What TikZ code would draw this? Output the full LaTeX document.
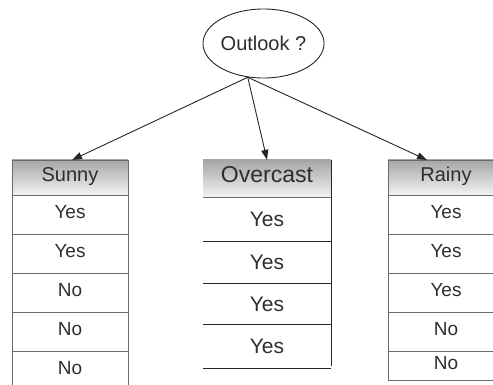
\documentclass[tikz,border=0pt]{standalone}
\usepackage{fontspec}
\setmainfont{Liberation Sans}
\usetikzlibrary{arrows.meta,shapes.geometric}

\definecolor{ink}{HTML}{2E2E2E}
\definecolor{rule}{HTML}{6A6A6A}
\definecolor{headtop}{HTML}{A6A6A6}
\definecolor{headbot}{HTML}{F3F3F3}

\tikzset{
  txt/.style={text=ink, inner sep=0pt, text height=0.72em, text depth=0pt},
  cell/.style={txt, draw=rule, line width=0.9pt, minimum width=116pt,
    minimum height=39pt, font=\fontsize{19}{19}\selectfont},
  headcell/.style={cell, minimum height=35pt, top color=headtop,
    bottom color=headbot, font=\fontsize{20}{20}\selectfont},
  ocell/.style={txt, minimum width=128pt, font=\fontsize{21}{21}\selectfont,
    text height={0.72em+8pt}},
  ohead/.style={txt, minimum width=128pt, minimum height=37pt,
    top color=headtop, bottom color=headbot, font=\fontsize{23}{23}\selectfont},
  oline/.style={draw=black!85, line width=1.1pt},
  link/.style={draw=black!85, line width=0.9pt,
    -{Triangle[length=10pt,width=7pt]}},
}

\begin{document}
\begin{tikzpicture}[x=1pt,y=-1pt]
\useasboundingbox (0,0) rectangle (493,385);
\clip (0,0) rectangle (493,385);

% root question
\node[ellipse, draw=black!85, line width=0.9pt, minimum width=117pt,
  minimum height=69pt, inner sep=0pt, text=ink,
  font=\fontsize{20}{20}\selectfont] (outlook) at (263.5,43.5) {Outlook ?};

% Sunny branch
\node[headcell] (sh) at (70,177.5) {Sunny};
\node[cell] (s1) at (70,214.5) {Yes};
\node[cell] (s2) at (70,253.5) {Yes};
\node[cell] (s3) at (70,292.5) {No};
\node[cell] (s4) at (70,331.5) {No};
\node[cell] (s5) at (70,370.5) {No};

% Overcast branch
\node[ohead] (oh) at (267,178.5) {Overcast};
\node[ocell, minimum height=44pt] (o1) at (267,219) {Yes};
\node[ocell, minimum height=42pt] (o2) at (267,262) {Yes};
\node[ocell, minimum height=41pt] (o3) at (267,303.5) {Yes};
\node[ocell, minimum height=44pt] (o4) at (267,346) {Yes};
\draw[draw=rule, line width=0.9pt] (oh.south west) -- (oh.south east);
\draw[oline] (o1.south west) -- (o1.south east);
\draw[oline] (o2.south west) -- (o2.south east);
\draw[oline] (o3.south west) -- (o3.south east);
\draw[oline] (o4.south west) -- (o4.south east);
\draw[oline] (oh.north east) -- ([yshift=2pt]o4.south east);

% Rainy branch
\node[headcell] (rh) at (446,177.5) {Rainy};
\node[cell] (r1) at (446,214.5) {Yes};
\node[cell] (r2) at (446,253.5) {Yes};
\node[cell] (r3) at (446,292.5) {Yes};
\node[cell] (r4) at (446,331.5) {No};
\node[cell, minimum height=29pt] (r5) at (446,365.5) {No};

% branches from the root
\coordinate (stip) at (72,160);
\coordinate (rtip) at (427,160);
\draw[link] (outlook.245) -- (stip);
\draw[link] (outlook.245) -- (oh.north);
\draw[link] (outlook.245) -- (rtip);
\end{tikzpicture}
\end{document}
